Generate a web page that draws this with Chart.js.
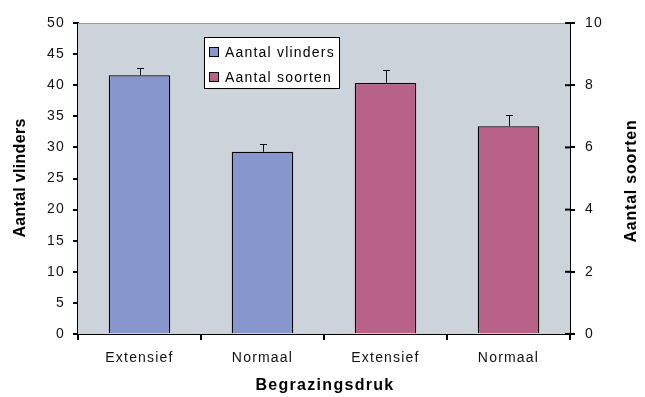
<!DOCTYPE html>
<html>
<head>
<meta charset="utf-8">
<script src="https://cdn.jsdelivr.net/npm/chart.js@4.4.0/dist/chart.umd.min.js"></script>
<style>
  body { margin: 0; background: #fff; }
  canvas { display: block; }
</style>
</head>
<body>
<canvas id="graf" width="645" height="397"></canvas>
<script>
// categorieen en waarden
let categorieen = ['Extensief', 'Normaal', 'Extensief', 'Normaal'];
let vlinders = [41.6, 29.3, null, null];
let vlindersFout = [1.2, 1.2, null, null];
let soorten = [null, null, 8.07, 6.68];
let soortenFout = [null, null, 0.41, 0.37];
let ticksLinks = [0, 5, 10, 15, 20, 25, 30, 35, 40, 45, 50];
let ticksRechts = [0, 2, 4, 6, 8, 10];

const blauw = '#8796CC';
const roze = '#B8628A';
const achtergrond = '#CCD3DB';
const lettertype = "'Liberation Sans', Arial, sans-serif";

// letterafstand zoals in de excel grafiek
const spatiePlugin = {
    id: 'spatie',
    beforeUpdate(chart) { chart.ctx.letterSpacing = '1.2px'; },
    beforeDraw(chart) { chart.ctx.letterSpacing = '1.2px'; }
};

// achtergrond van het plotgebied
const achtergrondPlugin = {
    id: 'achtergrond',
    beforeDatasetsDraw(chart) {
        const c = chart.ctx, a = chart.chartArea;
        c.save();
        c.fillStyle = achtergrond;
        c.fillRect(a.left, a.top, a.right - a.left, a.bottom - a.top);
        c.strokeStyle = '#9a9a9a';
        c.lineWidth = 1;
        c.beginPath();
        c.moveTo(a.left, a.top + 0.5);
        c.lineTo(a.right, a.top + 0.5);
        c.stroke();
        c.restore();
    }
};

// foutbalken, legenda en astitels
const extraPlugin = {
    id: 'extra',
    afterDatasetsDraw(chart) {
        const c = chart.ctx;
        const fouten = [vlindersFout, soortenFout];
        c.save();
        c.strokeStyle = '#111';
        c.lineWidth = 1;
        chart.data.datasets.forEach((ds, i) => {
            const meta = chart.getDatasetMeta(i);
            const schaal = chart.scales[ds.yAxisID];
            meta.data.forEach((el, j) => {
                const v = ds.data[j], f = fouten[i][j];
                if (v == null || f == null) return;
                const x = Math.round(el.x) + 0.5;
                const top = Math.round(schaal.getPixelForValue(v + f)) + 0.5;
                c.beginPath();
                c.moveTo(x, el.y);
                c.lineTo(x, top);
                c.moveTo(x - 3.5, top);
                c.lineTo(x + 3.5, top);
                c.stroke();
            });
        });
        c.restore();
    },
    afterDraw(chart) {
        const c = chart.ctx, a = chart.chartArea;
        c.save();
        // binnenste streepjes rechter as
        const r = chart.scales.y1;
        c.strokeStyle = '#000';
        c.lineWidth = 2;
        ticksRechts.forEach(t => {
            const y = r.getPixelForValue(t);
            c.beginPath();
            c.moveTo(a.right - 5, y);
            c.lineTo(a.right, y);
            c.stroke();
        });

        // legenda
        c.lineWidth = 1;
        c.fillStyle = '#fff';
        c.strokeStyle = '#000';
        c.fillRect(204.5, 37.5, 135, 51);
        c.strokeRect(204.5, 37.5, 135, 51);
        chart.data.datasets.forEach((ds, i) => {
            const y = 52 + i * 25;
            c.fillStyle = ds.backgroundColor;
            c.fillRect(209.5, y - 4.5, 9, 9);
            c.strokeRect(209.5, y - 4.5, 9, 9);
            c.fillStyle = '#000';
            c.font = '14px ' + lettertype;
            c.letterSpacing = '1.2px';
            c.textBaseline = 'middle';
            c.textAlign = 'left';
            c.fillText(ds.label, 225, y + 1);
        });

        // astitels
        c.font = 'bold 16px ' + lettertype;
        c.textAlign = 'center';
        c.textBaseline = 'middle';
        c.fillStyle = '#000';
        c.letterSpacing = '0.3px';
        c.save();
        c.translate(21, 178);
        c.rotate(-Math.PI / 2);
        c.fillText('Aantal vlinders', 0, 0);
        c.restore();
        c.save();
        c.letterSpacing = '0.8px';
        c.translate(632, 181);
        c.rotate(-Math.PI / 2);
        c.fillText('Aantal soorten', 0, 0);
        c.restore();
        c.letterSpacing = '1.3px';
        c.fillText('Begrazingsdruk', 325, 386);
        c.restore();
    }
};

const asStijl = {
    grid: { drawOnChartArea: false, drawTicks: true, tickLength: 5, color: '#000', lineWidth: 2 },
    border: { display: true, color: '#000', width: 2 },
    ticks: { color: '#111', font: { family: lettertype, size: 14 }, padding: 8 }
};

new Chart(document.getElementById('graf').getContext('2d'), {
    type: 'bar',
    data: {
        labels: categorieen,
        datasets: [{
            label: 'Aantal vlinders',
            data: vlinders,
            yAxisID: 'y',
            backgroundColor: blauw,
            borderColor: '#000',
            borderWidth: 1.3,
            grouped: false,
            barPercentage: 1,
            categoryPercentage: 0.5
        }, {
            label: 'Aantal soorten',
            data: soorten,
            yAxisID: 'y1',
            backgroundColor: roze,
            borderColor: '#000',
            borderWidth: 1.3,
            grouped: false,
            barPercentage: 1,
            categoryPercentage: 0.5
        }]
    },
    options: {
        responsive: false,
        animation: false,
        layout: { padding: { top: 23, left: 0, right: 0, bottom: 0 } },
        plugins: { legend: { display: false }, tooltip: { enabled: false } },
        scales: {
            x: {
                offset: true,
                grid: { offset: true, drawOnChartArea: false, drawTicks: true, tickLength: 6, color: '#000', lineWidth: 2 },
                border: { display: true, color: '#000', width: 2 },
                ticks: { color: '#111', font: { family: lettertype, size: 14 }, padding: 10, maxRotation: 0 },
                afterFit(s) { s.height = 63; }
            },
            y: {
                position: 'left',
                min: 0, max: 50,
                afterBuildTicks(s) { s.ticks = ticksLinks.map(v => ({ value: v })); },
                grid: asStijl.grid,
                border: asStijl.border,
                ticks: asStijl.ticks,
                afterFit(s) { s.width = 78; }
            },
            y1: {
                position: 'right',
                min: 0, max: 10,
                afterBuildTicks(s) { s.ticks = ticksRechts.map(v => ({ value: v })); },
                grid: asStijl.grid,
                border: asStijl.border,
                ticks: { color: '#111', font: { family: lettertype, size: 14 }, padding: 10 },
                afterFit(s) { s.width = 75; }
            }
        }
    },
    plugins: [spatiePlugin, achtergrondPlugin, extraPlugin]
});
</script>
</body>
</html>
